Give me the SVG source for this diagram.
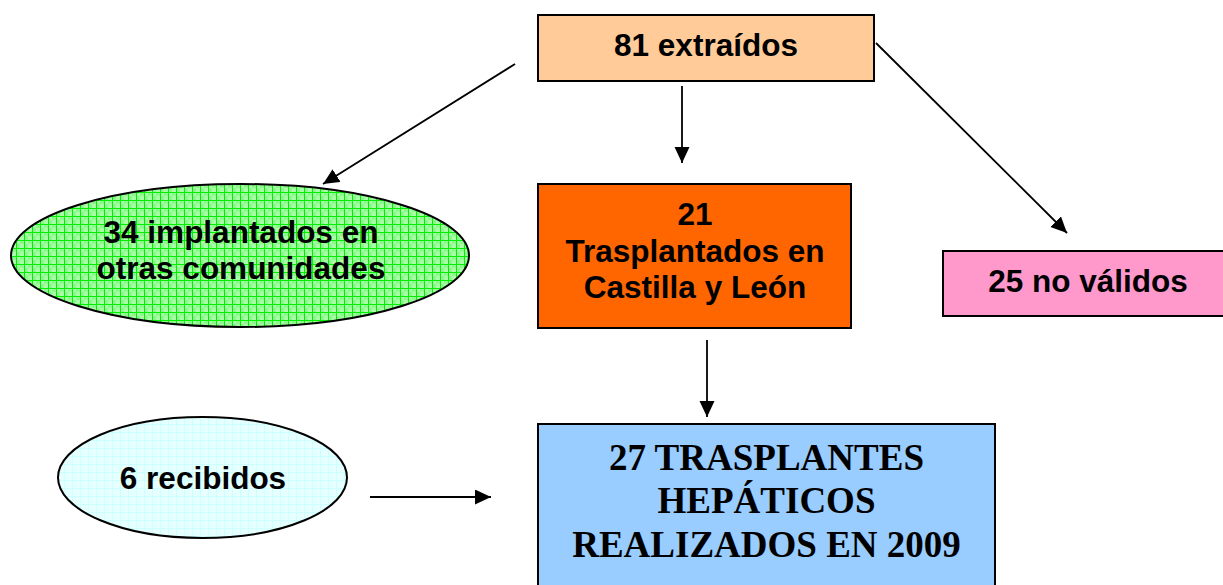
<svg xmlns="http://www.w3.org/2000/svg" width="1223" height="585" viewBox="0 0 1223 585">
<defs>
<style>
.box{stroke:#000;stroke-width:2}
.lbl{font-family:"Liberation Sans",Arial,sans-serif;font-weight:bold;font-size:31.5px;fill:#000;text-anchor:middle}
.big{font-family:"Liberation Serif","Times New Roman",serif;font-weight:bold;font-size:37px;fill:#000;text-anchor:middle}
.conn{stroke:#000;stroke-width:1.8;fill:none;marker-end:url(#ah)}
</style>
<marker id="ah" markerUnits="userSpaceOnUse" markerWidth="17" markerHeight="16" refX="16" refY="7.5" orient="auto">
<path d="M0,0 L16,7.5 L0,15 z" fill="#000"/>
</marker>
<pattern id="gridG" width="8" height="8" patternUnits="userSpaceOnUse">
<rect width="8" height="8" fill="#8cf88c"/>
<rect x="0" y="0" width="4" height="4" fill="#a8ffa8"/>
<rect x="4" y="4" width="4" height="4" fill="#a8ffa8"/>
<path d="M0,0.5 H8 M0.5,0 V8" stroke="#00f000" stroke-width="1"/>
</pattern>
<pattern id="gridC" width="8" height="8" patternUnits="userSpaceOnUse">
<rect width="8" height="8" fill="#e6ffff"/>
<path d="M0,0.5 H8 M0.5,0 V8" stroke="#ccffff" stroke-width="1"/>
</pattern>
</defs>
<rect width="1223" height="585" fill="#fff"/>

<g id="connectors">
<line class="conn" x1="515" y1="64" x2="323" y2="184"/>
<line class="conn" x1="682" y1="86" x2="682" y2="163"/>
<line class="conn" x1="876" y1="43" x2="1067" y2="233"/>
<line class="conn" x1="707" y1="340" x2="707" y2="417"/>
<line class="conn" x1="370" y1="497" x2="491" y2="497"/>
</g>

<g id="n-extraidos">
<rect class="box" x="538" y="15" width="336" height="66" fill="#ffcc99"/>
<text class="lbl" x="706" y="56">81 extraídos</text>
</g>

<g id="n-implantados">
<ellipse class="box" cx="240" cy="255.5" rx="229" ry="71.5" fill="url(#gridG)"/>
<text class="lbl" x="241" y="243">34 implantados en</text>
<text class="lbl" x="241" y="279">otras comunidades</text>
</g>

<g id="n-trasplantados">
<rect class="box" x="538" y="184" width="313" height="144" fill="#ff6600"/>
<text class="lbl" x="695" y="225">21</text>
<text class="lbl" x="695" y="262">Trasplantados en</text>
<text class="lbl" x="695" y="298">Castilla y León</text>
</g>

<g id="n-novalidos">
<rect class="box" x="943" y="251" width="290" height="65" fill="#ff99cc"/>
<text class="lbl" x="1088" y="292">25 no válidos</text>
</g>

<g id="n-recibidos">
<ellipse class="box" cx="202.5" cy="477.5" rx="144.5" ry="60.5" fill="url(#gridC)"/>
<text class="lbl" x="203" y="489">6 recibidos</text>
</g>

<g id="n-realizados">
<rect class="box" x="538" y="424" width="457" height="180" fill="#99ccff"/>
<text class="big" x="766.5" y="470">27 TRASPLANTES</text>
<text class="big" x="766.5" y="513">HEPÁTICOS</text>
<text class="big" x="766.5" y="557">REALIZADOS EN 2009</text>
</g>
</svg>
